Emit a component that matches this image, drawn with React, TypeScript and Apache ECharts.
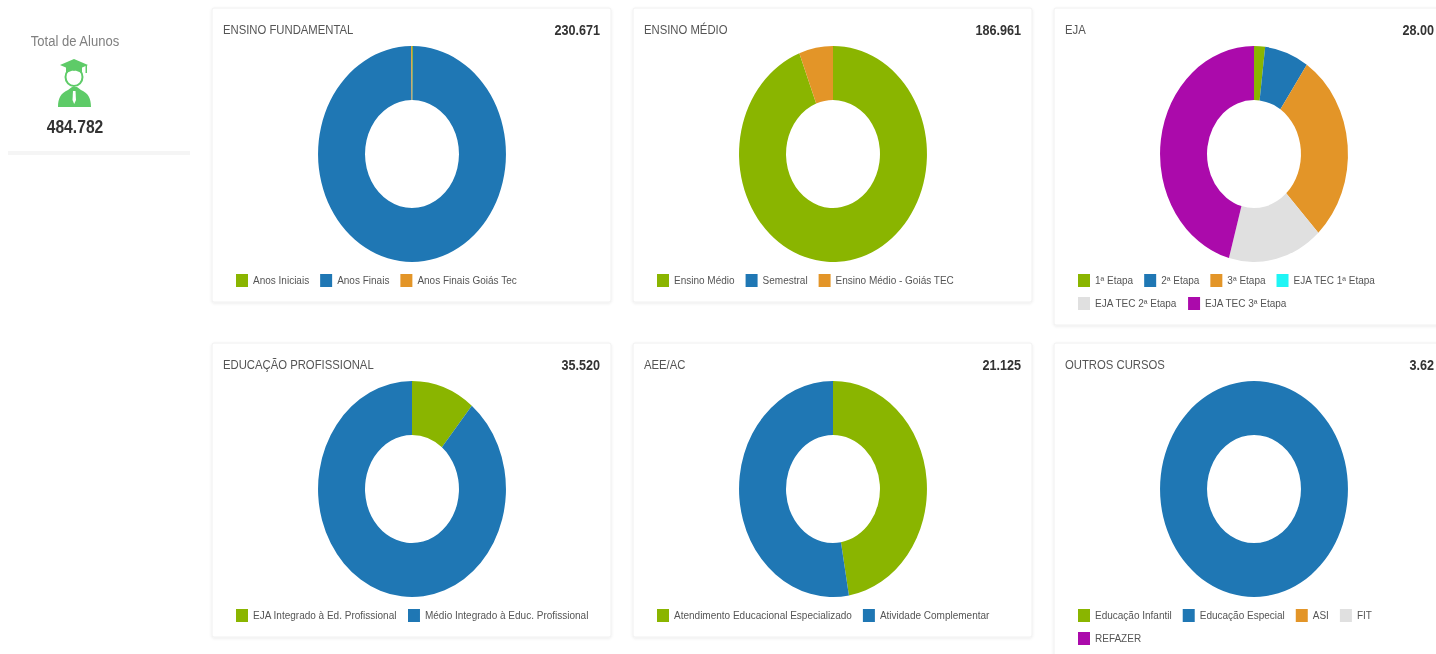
import React, { useEffect, useRef } from "react";
import * as echarts from "echarts";

const GREEN = "#8ab500";
const BLUE = "#1f77b4";
const ORANGE = "#e39528";
const CYAN = "#1ff5f5";
const GREY = "#e0e0e0";
const MAGENTA = "#ab0aab";

const fundamentalNames = ["Anos Iniciais", "Anos Finais", "Anos Finais Goiás Tec"];
const fundamentalValues = [350, 229971, 350];
const fundamentalColors = [GREEN, BLUE, ORANGE];

const medioNames = ["Ensino Médio", "Semestral", "Ensino Médio - Goiás TEC"];
const medioValues = [176061, 0, 10900];
const medioColors = [GREEN, BLUE, ORANGE];

const ejaNames = ["1ª Etapa", "2ª Etapa", "3ª Etapa", "EJA TEC 1ª Etapa", "EJA TEC 2ª Etapa", "EJA TEC 3ª Etapa"];
const ejaValues = [532, 2128, 7982, 0, 4565, 12799];
const ejaColors = [GREEN, BLUE, ORANGE, CYAN, GREY, MAGENTA];

const profNames = ["EJA Integrado à Ed. Profissional", "Médio Integrado à Educ. Profissional"];
const profValues = [3900, 31620];
const profColors = [GREEN, BLUE];

const aeeNames = ["Atendimento Educacional Especializado", "Atividade Complementar"];
const aeeValues = [9990, 11135];
const aeeColors = [GREEN, BLUE];

const outrosNames = ["Educação Infantil", "Educação Especial", "ASI", "FIT", "REFAZER"];
const outrosValues = [0, 3626, 0, 0, 0];
const outrosColors = [GREEN, BLUE, ORANGE, GREY, MAGENTA];

const cards = [
  { title: "ENSINO FUNDAMENTAL", total: "230.671", names: fundamentalNames, values: fundamentalValues, colors: fundamentalColors, col: 0, row: 0, h: 294, rows: 3, totalX: 600 },
  { title: "ENSINO MÉDIO", total: "186.961", names: medioNames, values: medioValues, colors: medioColors, col: 1, row: 0, h: 294, rows: 3, totalX: 1021 },
  { title: "EJA", total: "28.00", names: ejaNames, values: ejaValues, colors: ejaColors, col: 2, row: 0, h: 317, rows: 4, totalX: 1434 },
  { title: "EDUCAÇÃO PROFISSIONAL", total: "35.520", names: profNames, values: profValues, colors: profColors, col: 0, row: 1, h: 294, rows: 2, totalX: 600 },
  { title: "AEE/AC", total: "21.125", names: aeeNames, values: aeeValues, colors: aeeColors, col: 1, row: 1, h: 294, rows: 2, totalX: 1021 },
  { title: "OUTROS CURSOS", total: "3.62", names: outrosNames, values: outrosValues, colors: outrosColors, col: 2, row: 1, h: 330, rows: 4, totalX: 1434 },
];

const CARD_X = [212, 633, 1054];
const CARD_Y = [8, 343];
const CARD_W = 399;
const SX = 0.87;
const FONT = '"Liberation Sans", Arial, sans-serif';

const bodyPath = "M0 24 C0 15 3 10 10 7 L14 4 L19 4 L23 7 C30 10 33 15 33 24 Z";
echarts.graphic.registerShape("gradBodyPath", echarts.graphic.extendPath(bodyPath, {}) as any);

function scaledText(text: string, x: number, y: number, size: number, color: string, bold: boolean, align: string) {
  return {
    type: "text",
    x,
    y,
    scaleX: SX,
    z: 10,
    style: {
      text,
      fill: color,
      font: `${bold ? "bold " : ""}${size}px ${FONT}`,
      align,
      verticalAlign: "middle",
    },
  };
}

function buildOption() {
  const series: any[] = [];
  const legend: any[] = [];
  const graphic: any[] = [];

  graphic.push(
    { type: "rect", shape: { x: 8, y: 151, width: 182, height: 4 }, style: { fill: "#f5f5f5" }, z: 1 },
    scaledText("Total de Alunos", 75, 41, 15, "#808080", false, "center"),
    scaledText("484.782", 75, 127, 18, "#333333", true, "center"),
    { type: "gradBodyPath", x: 58, y: 83, z: 10, style: { fill: "#5ecb68" } },
    { type: "polygon", z: 11, shape: { points: [[73, 91], [75.5, 91], [76, 100], [74.2, 104], [72.5, 100]] }, style: { fill: "#ffffff" } },
    { type: "ellipse", z: 11, shape: { cx: 74, cy: 77, rx: 8.5, ry: 9 }, style: { fill: "#ffffff", stroke: "#5ecb68", lineWidth: 2 } },
    { type: "polygon", z: 12, shape: { points: [[74, 59], [88, 65], [74, 71], [60, 65]] }, style: { fill: "#5ecb68" } },
    { type: "polygon", z: 12, shape: { points: [[66, 67], [82, 67], [82, 73], [74, 70], [66, 73]] }, style: { fill: "#5ecb68" } },
    { type: "rect", z: 12, shape: { x: 85.5, y: 65, width: 1.5, height: 8 }, style: { fill: "#5ecb68" } }
  );

  cards.forEach((card) => {
    const x0 = CARD_X[card.col];
    const y0 = CARD_Y[card.row];
    const cx = x0 + 200;
    const cy = y0 + 146;
    const total = card.values.reduce((a, b) => a + b, 0);

    graphic.push(
      {
        type: "rect",
        z: 1,
        shape: { x: x0, y: y0, width: CARD_W, height: card.h, r: 2 },
        style: { fill: "#ffffff", stroke: "#f0f0f0", lineWidth: 1, shadowBlur: 3, shadowColor: "rgba(0,0,0,0.08)", shadowOffsetY: 1 },
      },
      scaledText(card.title, x0 + 11, y0 + 22, 13, "#555555", false, "left"),
      scaledText(card.total, card.totalX, y0 + 22, 14.5, "#333333", true, "right")
    );

    let before = 0;
    card.names.forEach((name, i) => {
      const start = before;
      before += card.values[i];
      series.push({
        type: "custom",
        name,
        coordinateSystem: "none",
        silent: true,
        itemStyle: { color: card.colors[i] },
        data: [[card.values[i]]],
        renderItem: (_: any, api: any) => {
          const v = api.value(0);
          const a0 = -Math.PI / 2 + (start / total) * Math.PI * 2;
          const a1 = a0 + (v / total) * Math.PI * 2;
          return {
            type: "sector",
            x: cx,
            y: cy,
            scaleX: SX,
            shape: { cx: 0, cy: 0, r: 108, r0: 54, startAngle: a0, endAngle: a1, clockwise: true },
            style: { fill: card.colors[i] },
          };
        },
      });
    });

    const base = {
      orient: "horizontal",
      padding: 0,
      itemWidth: 12,
      itemHeight: 13,
      itemGap: 11,
      icon: "rect",
      selectedMode: false,
      textStyle: { color: "#555555", fontSize: 10, fontFamily: FONT },
    };
    legend.push({ ...base, left: x0 + 24, top: y0 + 266, data: card.names.slice(0, card.rows) });
    if (card.names.length > card.rows) {
      legend.push({ ...base, left: x0 + 24, top: y0 + 289, data: card.names.slice(card.rows) });
    }
  });

  return { animation: false, backgroundColor: "#ffffff", legend, series, graphic };
}

export default function App() {
  const ref = useRef<HTMLDivElement>(null);
  useEffect(() => {
    const chart = echarts.init(ref.current!, undefined, { renderer: "svg" });
    chart.setOption(buildOption() as any);
    return () => chart.dispose();
  }, []);
  return <div ref={ref} style={{ position: "fixed", left: 0, top: 0, width: 1436, height: 654, overflow: "hidden", filter: "blur(0.4px)" }} />;
}
